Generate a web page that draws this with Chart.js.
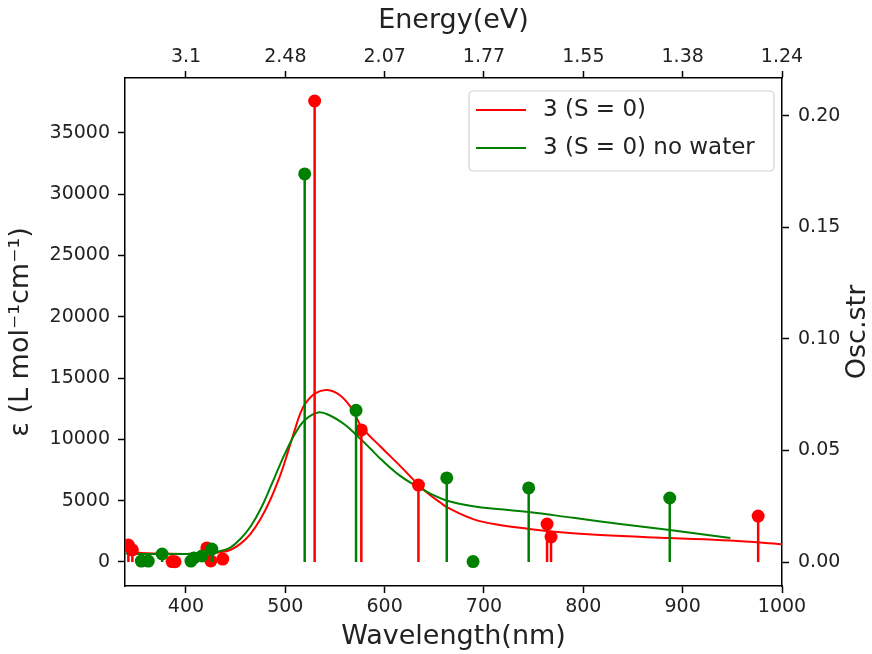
<!DOCTYPE html>
<html>
<head>
<meta charset="utf-8">
<script src="https://cdn.jsdelivr.net/npm/chart.js@4.4.1/dist/chart.umd.min.js"></script>
<style>
	body { margin: 0; background: #fff; }
	#wrap { width: 872px; height: 654px; }
</style>
</head>
<body>
<div id="wrap"><canvas id="ChartSpectrum" width="872" height="654"></canvas></div>
<script>
// --------------
// DATA
// --------------

// broadened spectrum, 3 (S = 0)
const redCurveNm = [339, 350, 360, 380, 400, 420, 435, 445, 455, 465, 475, 485, 495, 500, 505, 510, 515, 520, 530, 542, 555, 567, 577, 596, 616, 634, 645, 656, 663, 689, 717, 745, 768, 817, 887, 948, 1000];
const redCurveEps = [900, 780, 720, 680, 660, 700, 800, 1000, 1500, 2300, 3500, 5100, 7100, 8300, 9600, 10900, 12100, 12900, 13750, 14030, 13600, 12500, 11000, 9400, 7800, 6300, 5500, 4850, 4450, 3500, 3000, 2700, 2480, 2200, 1950, 1750, 1450];

// broadened spectrum, 3 (S = 0) no water
const greenCurveNm = [339, 360, 380, 400, 420, 435, 445, 455, 465, 475, 485, 495, 500, 510, 520, 533, 545, 560, 571, 585, 596, 616, 634, 648, 663, 689, 717, 745, 790, 837, 887, 948];
const greenCurveEps = [700, 650, 650, 660, 750, 900, 1200, 1900, 2900, 4300, 6100, 8000, 8900, 10500, 11600, 12200, 11950, 11200, 10400, 9300, 8400, 7000, 6100, 5500, 5000, 4550, 4300, 4080, 3600, 3100, 2610, 1960];

// oscillator strengths (sticks)
const redStemNm = [342, 346, 386, 389, 421, 425, 437, 529.5, 576.5, 634, 763.5, 767.5, 976];
const redStemOsc = [0.0076, 0.0054, 0.0002, 0.0001, 0.0063, 0.0005, 0.0013, 0.2067, 0.0592, 0.0345, 0.0170, 0.0112, 0.0206];

const greenStemNm = [355, 362, 376, 405, 408, 416, 426, 519.5, 571.2, 662.5, 689, 745, 887];
const greenStemOsc = [0.0004, 0.0004, 0.0036, 0.0004, 0.0018, 0.0027, 0.0058, 0.174, 0.068, 0.0377, 0.0002, 0.0332, 0.0287];

// ticks
const wavelengthTicks = [400, 500, 600, 700, 800, 900, 1000];
const energyTickLabels = ["3.1", "2.48", "2.07", "1.77", "1.55", "1.38", "1.24"];
const epsTicks = [0, 5000, 10000, 15000, 20000, 25000, 30000, 35000];
const oscTicks = [0, 0.05, 0.10, 0.15, 0.20];

const labelRed = "3 (S = 0)";
const labelGreen = "3 (S = 0) no water";

// --------------
// CONFIG CHART
// --------------
const FONT = "'DejaVu Sans', 'Liberation Sans', sans-serif";
const RED = "#ff0000";
const GREEN = "#008000";

const toPoints = (xs, ys) => xs.map((x, i) => ({ x: x, y: ys[i] }));
const toStems = (xs, ys) => xs.flatMap((x, i) => [{ x: x, y: 0 }, { x: x, y: ys[i] }, { x: x, y: null }]);

const axisStyle = (position, size) => ({
	position: position,
	afterFit: (scale) => {
		if (scale.isHorizontal()) scale.height = size;
		else scale.width = size;
	},
	border: { display: true, color: "#000", width: 1.5 },
	grid: { drawOnChartArea: false, drawTicks: true, tickLength: 7, tickColor: "#000", tickWidth: 1.5 },
});

const titleFont = { family: FONT, size: 27 };
const tickFont = { family: FONT, size: 19 };

// custom legend + right title (rotated like matplotlib)
const extrasPlugin = {
	id: "extras",
	afterDraw(chart) {
		const ctx = chart.ctx;
		ctx.save();
		// legend box
		ctx.beginPath();
		ctx.roundRect(469, 91, 305, 80, 4);
		ctx.fillStyle = "rgba(255,255,255,0.8)";
		ctx.fill();
		ctx.strokeStyle = "#d0d0d0";
		ctx.lineWidth = 1.2;
		ctx.stroke();
		const rows = [[RED, labelRed, 110], [GREEN, labelGreen, 148]];
		rows.forEach(([color, text, y]) => {
			ctx.beginPath();
			ctx.moveTo(476, y);
			ctx.lineTo(526, y);
			ctx.strokeStyle = color;
			ctx.lineWidth = 2;
			ctx.stroke();
			ctx.fillStyle = "#222";
			ctx.font = "23px " + FONT;
			ctx.textBaseline = "middle";
			ctx.textAlign = "left";
			ctx.fillText(text, 543, y);
		});
		// right axis title
		ctx.translate(858, 332);
		ctx.rotate(-Math.PI / 2);
		ctx.font = "27px " + FONT;
		ctx.fillStyle = "#222";
		ctx.textAlign = "center";
		ctx.textBaseline = "middle";
		ctx.fillText("Osc.str", 0, 0);
		ctx.restore();
	},
};

const dataSpectrum = {
	datasets: [
		{
			label: "green sticks",
			data: toStems(greenStemNm, greenStemOsc),
			yAxisID: "y2",
			borderColor: GREEN,
			backgroundColor: GREEN,
			borderWidth: 2.5,
			pointRadius: (c) => (c.index % 3 === 1 ? 6.5 : 0),
			pointBorderWidth: 0,
			spanGaps: false,
			clip: 0,
		},
		{
			label: "red sticks",
			data: toStems(redStemNm, redStemOsc),
			yAxisID: "y2",
			borderColor: RED,
			backgroundColor: RED,
			borderWidth: 2.5,
			pointRadius: (c) => (c.index % 3 === 1 ? 6.5 : 0),
			pointBorderWidth: 0,
			spanGaps: false,
			clip: 0,
		},
		{
			label: labelGreen,
			data: toPoints(greenCurveNm, greenCurveEps),
			yAxisID: "y",
			borderColor: GREEN,
			borderWidth: 2,
			pointRadius: 0,
			tension: 0.4,
			clip: 0,
		},
		{
			label: labelRed,
			data: toPoints(redCurveNm, redCurveEps),
			yAxisID: "y",
			borderColor: RED,
			borderWidth: 2,
			pointRadius: 0,
			tension: 0.4,
			clip: 0,
		},
	],
};

const configSpectrum = {
	type: "line",
	data: dataSpectrum,
	options: {
		responsive: false,
		animation: false,
		events: [],
		layout: { padding: 0 },
		plugins: { legend: { display: false }, tooltip: { enabled: false } },
		scales: {
			x: {
				type: "linear",
				...axisStyle("bottom", 68),
				min: 338.6,
				max: 1000,
				afterBuildTicks: (scale) => { scale.ticks = wavelengthTicks.map((v) => ({ value: v })); },
				ticks: { font: tickFont, color: "#222", padding: 3, maxRotation: 0, callback: (v) => String(v) },
				title: { display: true, text: "Wavelength(nm)", font: titleFont, color: "#222", padding: { top: 0, bottom: 1 } },
			},
			x2: {
				type: "linear",
				...axisStyle("top", 78),
				min: 338.6,
				max: 1000,
				afterBuildTicks: (scale) => { scale.ticks = wavelengthTicks.map((v) => ({ value: v })); },
				ticks: { font: tickFont, color: "#222", padding: 3, maxRotation: 0, callback: (v, i) => energyTickLabels[i] },
				title: { display: true, text: "Energy(eV)", font: titleFont, color: "#222", padding: { top: 5, bottom: 0 } },
			},
			y: {
				type: "linear",
				...axisStyle("left", 125),
				min: -1958,
				max: 39478,
				afterBuildTicks: (scale) => { scale.ticks = epsTicks.map((v) => ({ value: v })); },
				ticks: { font: tickFont, color: "#222", padding: 8, callback: (v) => String(v) },
				title: { display: true, text: "ε (L mol⁻¹cm⁻¹)", font: titleFont, color: "#222", padding: { top: 5, bottom: 0 } },
			},
			y2: {
				type: "linear",
				...axisStyle("right", 90),
				min: -0.01076,
				max: 0.217,
				afterBuildTicks: (scale) => { scale.ticks = oscTicks.map((v) => ({ value: v })); },
				ticks: { font: tickFont, color: "#222", padding: 9, callback: (v) => v.toFixed(2) },
			},
		},
	},
	plugins: [extrasPlugin],
};

const ChartSpectrum = new Chart(document.getElementById("ChartSpectrum"), configSpectrum);
</script>
</body>
</html>
